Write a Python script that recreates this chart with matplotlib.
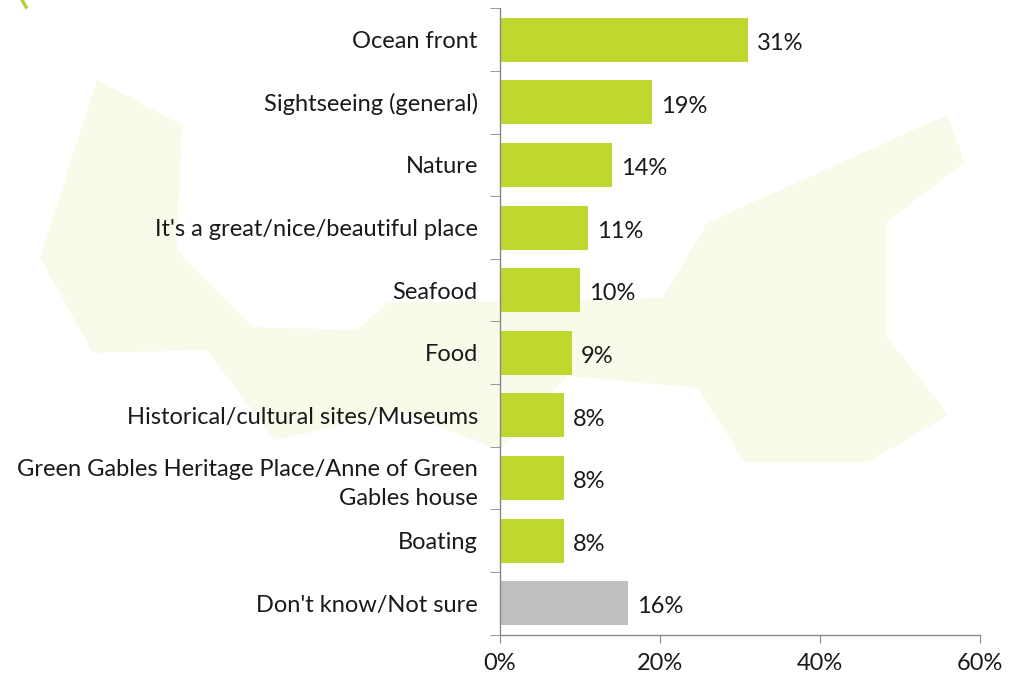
import numpy as np
import matplotlib.pyplot as plt
from matplotlib.patches import Polygon
from matplotlib.lines import Line2D

categories = [
    "Ocean front",
    "Sightseeing (general)",
    "Nature",
    "It's a great/nice/beautiful place",
    "Seafood",
    "Food",
    "Historical/cultural sites/Museums",
    "Green Gables Heritage Place/Anne of Green\nGables house",
    "Boating",
    "Don't know/Not sure",
]
values = [31, 19, 14, 11, 10, 9, 8, 8, 8, 16]
bar_colors = ["#c0d72f"] * 9 + ["#bfbfbf"]
x_ticks = [0, 20, 40, 60]

W, H = 1016, 674
plt.rcParams['font.family'] = ['Lato', 'DejaVu Sans']
fig = plt.figure(figsize=(W / 100, H / 100), dpi=100)

# pale map-like shape behind the chart (pixel outline, y measured from top)
bg_ax = fig.add_axes([0, 0, 1, 1], zorder=-1)
bg_ax.set_xlim(0, W)
bg_ax.set_ylim(H, 0)
bg_ax.axis("off")
outline = [(97, 80), (182, 125), (177, 250), (253, 327), (357, 330), (387, 303),
           (663, 298), (707, 223), (947, 115), (965, 162), (887, 222), (887, 337),
           (948, 415), (868, 462), (745, 462), (697, 388), (567, 376), (500, 450),
           (400, 412), (275, 440), (207, 350), (93, 353), (40, 257)]
bg_ax.add_patch(Polygon(outline, closed=True, facecolor="#f8fbea", edgecolor="none"))
bg_ax.add_line(Line2D([22, 26], [0, 7], color="#b5d334", lw=2.5))

ax = fig.add_axes([500 / W, 1 - 634.5 / H, 480 / W, 626 / H])
ax.patch.set_alpha(0)

y = np.arange(len(categories))
ax.barh(y, values, height=0.7, color=bar_colors, zorder=2)
for yi, v in zip(y, values):
    ax.text(v + 1.1, yi + 0.06, f"{v}%", va="center", ha="left", fontsize=17, color="#1a1a1a")

ax.set_xlim(0, 60)
ax.set_ylim(len(categories) - 0.5, -0.5)
ax.set_xticks(x_ticks)
ax.set_xticklabels([f"{t}%" for t in x_ticks], fontsize=17, color="#1a1a1a")
ax.set_yticks(y)
ax.set_yticklabels(categories, fontsize=17, color="#1a1a1a", linespacing=1.5)
ax.tick_params(axis="y", length=0, pad=16)
ax.tick_params(axis="x", length=6, color="#888888", pad=7)

# category boundary ticks on the value axis
ax.set_yticks(np.arange(-0.5, len(categories)), minor=True)
ax.tick_params(axis="y", which="minor", length=7, color="#888888")

for side in ["top", "right"]:
    ax.spines[side].set_visible(False)
for side in ["left", "bottom"]:
    ax.spines[side].set_color("#888888")
    ax.spines[side].set_linewidth(1.0)

fig.savefig("out.png", dpi=100)
